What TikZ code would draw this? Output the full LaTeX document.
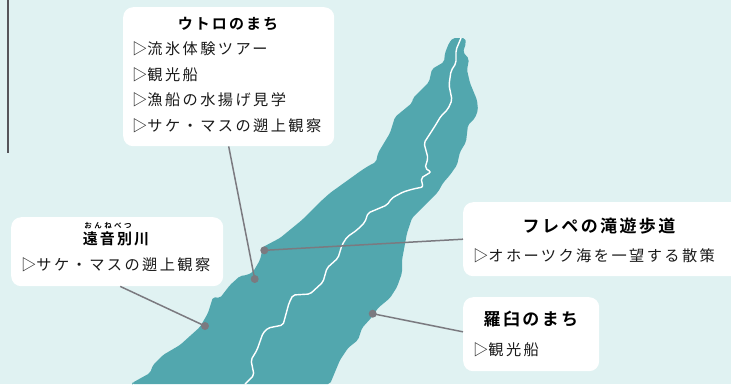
\documentclass[tikz,border=0pt]{standalone}
\usepackage{fontspec}
\setmainfont{Noto Sans CJK JP}
\newfontfamily\jpitem[LetterSpace=16]{Noto Sans CJK JP}
\newfontfamily\jpbold[LetterSpace=14,BoldFont={Noto Sans CJK JP Bold}]{Noto Sans CJK JP}
\newfontfamily\jpruby[LetterSpace=32,BoldFont={Noto Sans CJK JP Bold}]{Noto Sans CJK JP}
\definecolor{seabg}{HTML}{E0F2F2}
\definecolor{landc}{HTML}{52A7AE}
\definecolor{linec}{HTML}{7B7A80}
\definecolor{inkc}{HTML}{1A1A1A}
\newcommand{\tri}{▷\kern0pt}
\tikzset{
  x=1pt,y=-1pt,
  card/.style={fill=white,rounded corners=10pt,inner sep=0pt,anchor=north west},
  itemtext/.style={anchor=west,inner sep=0pt,text=inkc,font=\jpitem\fontsize{15.2}{18}\selectfont},
  titletext/.style={anchor=center,inner sep=0pt,text=black,font=\jpbold\bfseries\fontsize{15}{18}\selectfont},
  bigtitle/.style={anchor=center,inner sep=0pt,text=black,font=\jpbold\bfseries\fontsize{17}{18}\selectfont},
  rubytext/.style={anchor=center,inner sep=0pt,text=black,font=\jpruby\bfseries\fontsize{7.5}{8}\selectfont},
  pin/.style={circle,fill=linec,inner sep=0pt,minimum size=8pt},
  leader/.style={draw=linec,line width=1.5pt},
}
\begin{document}
\begin{tikzpicture}
\useasboundingbox (0,0) rectangle (731,384);
\fill[seabg] (0,0) rectangle (731,384);
\draw[draw=linec!70!black,line width=1.2pt] (8,0) -- (8,153);
% land
\fill[landc,rounded corners=2pt]
 (453,38) -- (465,38) -- (466,43) -- (463,52) -- (469,59) -- (467,70) -- (470,83) -- (477,100) -- (478,110)
 -- (475,118) -- (468,125) -- (466,142) -- (460,152) -- (457,165) -- (450,175) -- (443,183) -- (438,192)
 -- (422,208) -- (412,218) -- (407,233) -- (402,260) -- (402,273) -- (397,287) -- (390,298) -- (378,308)
 -- (372,317) -- (362,328) -- (358,340) -- (348,348) -- (340,360) -- (330,384)
 -- (132,384) -- (132,383) -- (150,373) -- (153,365) -- (163,355) -- (180,345) -- (200,327) -- (208,313)
 -- (213,297) -- (220,298) -- (230,285) -- (240,276) -- (247,275) -- (253,272) -- (260,260) -- (263,247)
 -- (280,238) -- (302,220) -- (320,202) -- (330,193) -- (362,170) -- (370,165) -- (376,162) -- (378,153)
 -- (390,133) -- (395,117) -- (412,103) -- (413,98) -- (429,82) -- (432,69) -- (444,62) -- (445,53)
 -- (449,43) -- cycle;
% river
\draw[white,line width=1.4pt,rounded corners=2pt]
 (461,38) -- (456,50) -- (456,63) -- (451,71) -- (449,85) -- (452,100) -- (448,109) -- (441,116)
 -- (435,126) -- (424,143) -- (428,158) -- (425,168) -- (431,172) -- (421,178) -- (423,187) -- (413,189)
 -- (403,192) -- (392,198) -- (387,205) -- (368,213) -- (365,222) -- (357,230) -- (347,237) -- (342,245)
 -- (338,258) -- (327,268) -- (323,282) -- (310,294) -- (293,295) -- (289,303) -- (283,325) -- (268,328)
 -- (263,333) -- (257,350) -- (251,360) -- (254,375) -- (245,384);
% cards
\node[card,minimum width=211pt,minimum height=139pt] (utoro) at (123,7) {};
\node[card,minimum width=212pt,minimum height=69pt] (ontone) at (11,217) {};
\node[card,minimum width=280pt,minimum height=74pt] (frepe) at (463,202) {};
\node[card,minimum width=136pt,minimum height=74pt] (rausu) at (463,297) {};
% pins
\node[pin] (p1) at (254.7,279) {};
\node[pin] (p2) at (264.3,250.3) {};
\node[pin] (p3) at (372.7,313.7) {};
\node[pin] (p4) at (205,326) {};
\draw[leader] (utoro.south) -- (p1.center);
\draw[leader] (frepe.west) -- (p2.center);
\draw[leader] (rausu.178) -- (p3.center);
\draw[leader] (ontone.-85) -- (p4.center);
% texts
\node[titletext] (t1) at (228,24) {ウトロのまち};
\node[itemtext] (a1) at (132,49) {\tri 流氷体験ツアー};
\node[itemtext] (a2) at (132,75) {\tri 観光船};
\node[itemtext] (a3) at (132,100) {\tri 漁船の水揚げ見学};
\node[itemtext] (a4) at (132,126) {\tri サケ・マスの遡上観察};
\node[rubytext] (r) at (108,226) {おんねべつ};
\node[titletext] (t2) at (116,239) {遠音別川};
\node[itemtext] (b1) at (21,265) {\tri サケ・マスの遡上観察};
\node[bigtitle] (t3) at (599,226) {フレペの滝遊歩道};
\node[itemtext] (c1) at (473,255.5) {\tri オホーツク海を一望する散策};
\node[bigtitle] (t4) at (531,319) {羅臼のまち};
\node[itemtext] (d1) at (473,350) {\tri 観光船};
\end{tikzpicture}
\end{document}
